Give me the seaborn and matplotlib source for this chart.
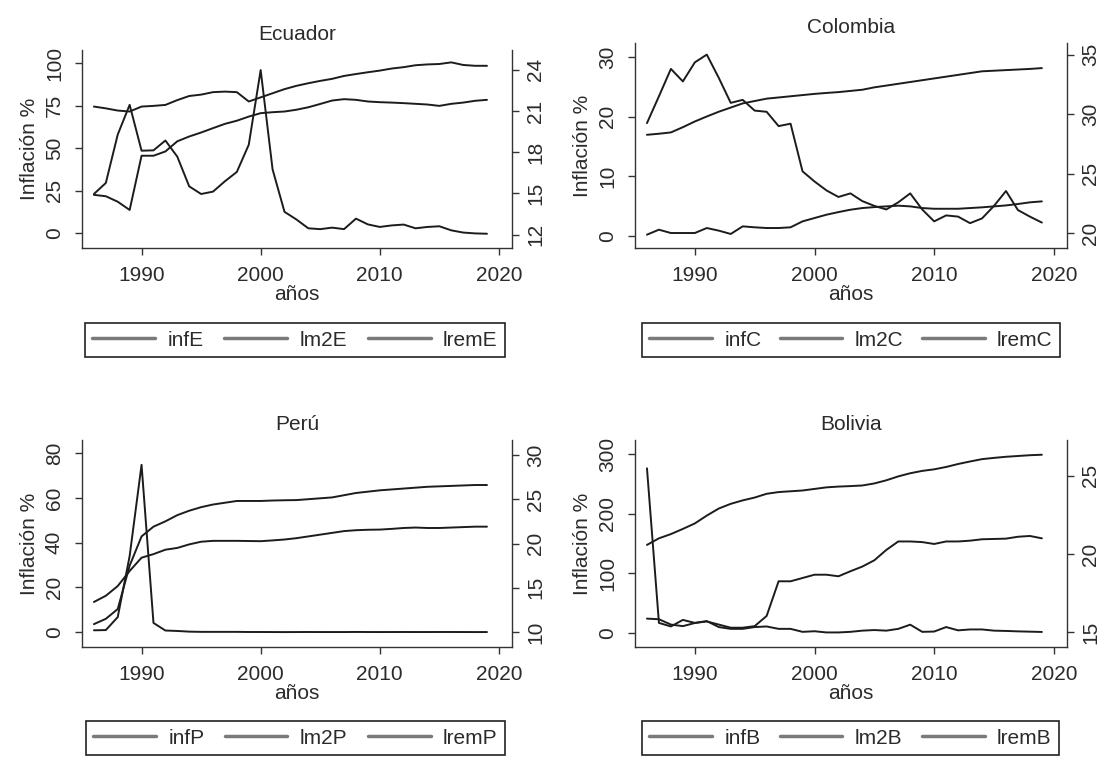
import matplotlib
matplotlib.use("Agg")
import matplotlib.pyplot as plt
import seaborn as sns
import pandas as pd

# ---------------- data ----------------
years = list(range(1986, 2020))

infE = [23, 29.5, 58, 75.5, 48.5, 48.7, 54.5, 45, 27.5, 23, 24.4, 30.5, 36, 52, 96,
        37.5, 12.5, 8, 2.8, 2.3, 3.2, 2.3, 8.5, 5.1, 3.6, 4.5, 5.0, 2.8, 3.6, 4.0,
        1.6, 0.3, -0.2, -0.4]
lm2E = [21.33, 21.2, 21.04, 20.97, 21.33, 21.38, 21.45, 21.8, 22.1, 22.2, 22.38, 22.42,
        22.38, 21.7, 22.0, 22.3, 22.6, 22.84, 23.03, 23.2, 23.35, 23.56, 23.7, 23.83,
        23.95, 24.1, 24.2, 24.34, 24.4, 24.43, 24.55, 24.36, 24.3, 24.3]
lremE = [14.9, 14.8, 14.4, 13.8, 17.75, 17.75, 18.06, 18.8, 19.15, 19.44, 19.76, 20.07,
         20.3, 20.6, 20.85, 20.92, 20.97, 21.1, 21.28, 21.52, 21.77, 21.87, 21.82, 21.7,
         21.65, 21.62, 21.58, 21.53, 21.48, 21.38, 21.53, 21.62, 21.75, 21.82]

infC = [18.9, 23.4, 28.0, 25.9, 29.1, 30.4, 26.5, 22.3, 22.8, 21.0, 20.8, 18.4, 18.8,
        10.8, 9.1, 7.6, 6.5, 7.1, 5.8, 5.0, 4.4, 5.6, 7.1, 4.4, 2.4, 3.4, 3.2, 2.1,
        2.9, 5.0, 7.5, 4.3, 3.2, 2.2]
lm2C = [28.26, 28.35, 28.46, 28.9, 29.38, 29.8, 30.2, 30.55, 30.9, 31.1, 31.3, 31.4,
        31.5, 31.6, 31.7, 31.78, 31.85, 31.95, 32.05, 32.25, 32.4, 32.55, 32.7, 32.85,
        33.0, 33.15, 33.3, 33.45, 33.6, 33.65, 33.7, 33.75, 33.8, 33.87]
lremC = [19.86, 20.28, 20.0, 20.0, 20.0, 20.42, 20.2, 19.92, 20.56, 20.48, 20.42, 20.42,
         20.48, 20.98, 21.26, 21.54, 21.76, 21.96, 22.1, 22.18, 22.24, 22.3, 22.24, 22.1,
         22.04, 22.04, 22.04, 22.1, 22.16, 22.24, 22.32, 22.44, 22.58, 22.66]

infP = [0.8, 0.9, 6.7, 34.0, 74.8, 4.1, 0.7, 0.5, 0.2, 0.1, 0.1, 0.1, 0.1, 0.04, 0.04,
        0.02, 0.0, 0.02, 0.04, 0.02, 0.02, 0.02, 0.06, 0.03, 0.02, 0.03, 0.04, 0.03,
        0.03, 0.04, 0.04, 0.03, 0.01, 0.02]
lm2P = [10.9, 11.5, 12.6, 17.5, 20.8, 21.9, 22.5, 23.2, 23.7, 24.1, 24.4, 24.6, 24.8,
        24.8, 24.8, 24.85, 24.88, 24.9, 25.0, 25.1, 25.2, 25.45, 25.7, 25.85, 26.0,
        26.1, 26.2, 26.3, 26.4, 26.45, 26.5, 26.55, 26.6, 26.6]
lremP = [13.4, 14.1, 15.2, 16.9, 18.4, 18.8, 19.3, 19.5, 19.9, 20.2, 20.3, 20.3, 20.3,
         20.28, 20.26, 20.35, 20.45, 20.6, 20.8, 21.0, 21.2, 21.4, 21.5, 21.55, 21.57,
         21.65, 21.75, 21.8, 21.75, 21.75, 21.8, 21.85, 21.9, 21.9]

infB = [276, 17, 11, 22, 17, 20, 10, 7, 7, 10, 11, 7, 7, 2, 3, 1, 1, 2, 4, 5, 4, 7,
        14, 2, 2.5, 10, 4.5, 6, 6, 4, 3.5, 2.8, 2.3, 1.8]
lm2B = [20.58, 21.0, 21.27, 21.6, 21.95, 22.45, 22.9, 23.2, 23.42, 23.6, 23.84, 23.95,
        24.0, 24.05, 24.15, 24.25, 24.3, 24.33, 24.37, 24.5, 24.7, 24.95, 25.15, 25.3,
        25.4, 25.55, 25.74, 25.9, 26.05, 26.13, 26.2, 26.25, 26.3, 26.33]
lremB = [15.88, 15.84, 15.5, 15.4, 15.6, 15.7, 15.5, 15.3, 15.3, 15.4, 16.05, 18.26,
         18.26, 18.47, 18.68, 18.68, 18.58, 18.9, 19.2, 19.6, 20.26, 20.8, 20.8, 20.76,
         20.64, 20.8, 20.8, 20.85, 20.94, 20.96, 20.98, 21.1, 21.15, 21.0]

titles = ["Ecuador", "Colombia", "Perú", "Bolivia"]
series_names = [["infE", "lm2E", "lremE"], ["infC", "lm2C", "lremC"],
                ["infP", "lm2P", "lremP"], ["infB", "lm2B", "lremB"]]
left_ticks = [[0, 25, 50, 75, 100], [0, 10, 20, 30], [0, 20, 40, 60, 80], [0, 100, 200, 300]]
right_ticks = [[12, 15, 18, 21, 24], [20, 25, 30, 35], [10, 15, 20, 25, 30], [15, 20, 25]]
x_ticks = [1990, 2000, 2010, 2020]

# ---------------- style ----------------
sns.set_theme(style="white")
plt.rcParams["font.family"] = ["Liberation Sans", "DejaVu Sans"]
plt.rcParams["font.size"] = 15

W, H = 1105, 776
fig = plt.figure(figsize=(W / 100, H / 100), dpi=100)
fig.patch.set_facecolor("white")

LINE = "#1c1c1c"
TXT = "#2b2b2b"
FS = 15

# layout (pixels): axes rect, legend rect, y limits
layout = [
    dict(ax=(82, 512, 50, 248), leg=(85, 505, 320, 360), yl=(-8.8, 107.8), yr=(11.03, 25.45)),
    dict(ax=(635, 1067, 43, 248), leg=(642, 1060, 320, 360), yl=(-2.07, 32.35), yr=(18.74, 35.98)),
    dict(ax=(82, 512, 440, 647), leg=(86, 505, 718, 758), yl=(-6.67, 85.9), yr=(8.32, 31.68)),
    dict(ax=(635, 1067, 440, 647), leg=(642, 1059, 718, 758), yl=(-23.4, 323.4), yr=(14.07, 27.27)),
]

data_sets = [(infE, lm2E, lremE), (infC, lm2C, lremC), (infP, lm2P, lremP), (infB, lm2B, lremB)]

for i in range(4):
    L = layout[i]
    x0, x1, yt, yb = L["ax"]
    ax = fig.add_axes([x0 / W, 1 - yb / H, (x1 - x0) / W, (yb - yt) / H])
    inf, lm2, lrem = data_sets[i]
    names = series_names[i]
    df = pd.DataFrame({"year": years, names[0]: inf, names[1]: lm2, names[2]: lrem})

    sns.lineplot(data=df, x="year", y=names[0], ax=ax, color=LINE, linewidth=1.4,
                 label=names[0], legend=False)
    ax2 = ax.twinx()
    sns.lineplot(data=df, x="year", y=names[1], ax=ax2, color=LINE, linewidth=1.4,
                 label=names[1], legend=False)
    sns.lineplot(data=df, x="year", y=names[2], ax=ax2, color=LINE, linewidth=1.4,
                 label=names[2], legend=False)
    for a in (ax, ax2):
        if a.get_legend() is not None:
            a.get_legend().remove()

    ax.set_xlim(1985.0, 2021.1)
    ax.set_xticks(x_ticks)
    ax.set_ylim(*L["yl"])
    ax.set_yticks(left_ticks[i])
    ax2.set_ylim(*L["yr"])
    ax2.set_yticks(right_ticks[i])

    for s in ["top", "right"]:
        ax.spines[s].set_visible(False)
    for s in ["top", "left", "bottom"]:
        ax2.spines[s].set_visible(False)
    for a, ss in ((ax, ["left", "bottom"]), (ax2, ["right"])):
        for s in ss:
            a.spines[s].set_color("#333333")
            a.spines[s].set_linewidth(1.0)

    ax.tick_params(axis="x", bottom=True, direction="out", length=5, width=1,
                   color="#333333", labelcolor=TXT, labelsize=FS, pad=8)
    ax.tick_params(axis="y", left=True, direction="out", length=5, width=1,
                   color="#333333", labelcolor=TXT, labelsize=FS, pad=8,
                   labelrotation=90)
    ax2.tick_params(axis="y", right=True, left=False, direction="out", length=5, width=1,
                    color="#333333", labelcolor=TXT, labelsize=FS, pad=5,
                    labelrotation=90)
    for lab in ax.get_yticklabels() + ax2.get_yticklabels():
        lab.set_verticalalignment("center")

    ax.set_xlabel("años", fontsize=FS, color=TXT, labelpad=0)
    ax.set_ylabel("Inflación %", fontsize=FS, color=TXT, labelpad=4)
    ax2.set_ylabel("")
    ax.set_title(titles[i], fontsize=FS, color=TXT, pad=7)
    ax.set_facecolor("white")
    ax2.patch.set_visible(False)

    h1, l1 = ax.get_legend_handles_labels()
    h2, l2 = ax2.get_legend_handles_labels()
    lx0, lx1, lyt, lyb = L["leg"]
    leg = fig.legend(h1 + h2, l1 + l2, loc="center",
                     bbox_to_anchor=(lx0 / W, 1 - lyb / H, (lx1 - lx0) / W, (lyb - lyt) / H),
                     mode="expand", ncol=3, frameon=True, fancybox=False,
                     edgecolor="#222222", framealpha=1, fontsize=FS,
                     handlelength=3.0, handletextpad=0.6, borderpad=0.35,
                     borderaxespad=0)
    leg.get_frame().set_linewidth(1.2)
    for ln in leg.get_lines():
        ln.set_color("#7a7a7a")
        ln.set_linewidth(2.5)
    for t in leg.get_texts():
        t.set_color(TXT)

fig.savefig("out.png", dpi=100, facecolor="white")
